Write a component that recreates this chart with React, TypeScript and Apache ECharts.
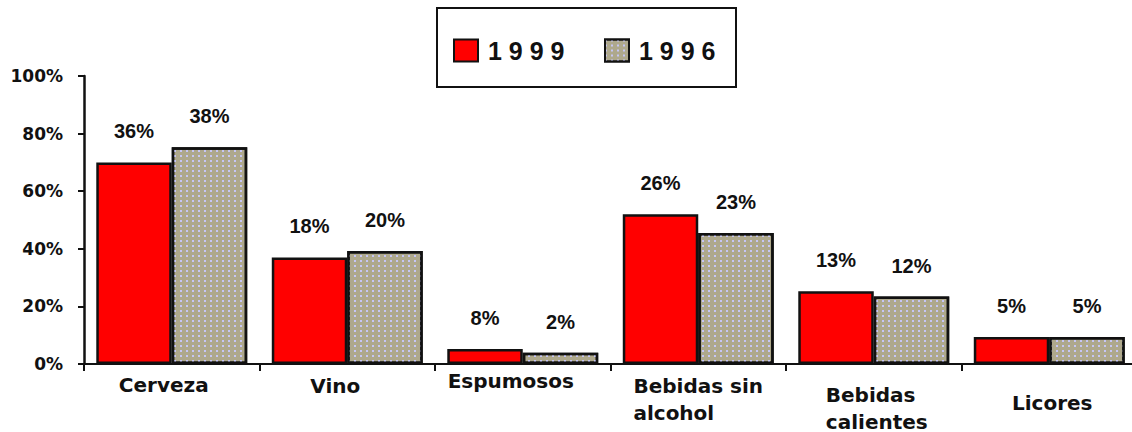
import React, { useEffect, useRef } from "react";
import * as echarts from "echarts";

const categories = ["Cerveza", "Vino", "Espumosos", "Bebidas sin\nalcohol", "Bebidas\ncalientes", "Licores"];
const seriesNames = ["1999", "1996"];
const bars1999 = [70, 37, 5.2, 52, 25.3, 9.4];
const bars1996 = [75.3, 39.2, 3.9, 45.5, 23.4, 9.4];
const labels1999 = ["36%", "18%", "8%", "26%", "13%", "5%"];
const labels1996 = ["38%", "20%", "2%", "23%", "12%", "5%"];
const yTicks = [0, 20, 40, 60, 80, 100];

// per-category label placement tweaks [top, right, bottom, left]
const catLabelPadding = [
  [4, 16, 0, 0],
  [5, 24, 0, 0],
  [0, 24, 0, 0],
  [5, 0, 0, 0],
  [14, 0, 0, 6],
  [22, 0, 0, 6],
];

export default function App() {
  const ref = useRef<HTMLDivElement>(null);
  useEffect(() => {
    document.body.style.margin = "0";
    document.body.style.overflow = "hidden";
    const chart = echarts.init(ref.current!, null, { renderer: "svg" });
    const labelFont = {
      fontFamily: "Liberation Sans",
      fontWeight: "bold" as const,
      fontSize: 20,
      color: "#111",
    };
    const legendText = {
      fontFamily: "Liberation Sans",
      fontWeight: "bold",
      fontSize: 25,
      color: "#111",
      padding: [0, 0, 0, 5],
    };
    chart.setOption({
      animation: false,
      backgroundColor: "#fff",
      graphic: [
        {
          type: "rect",
          shape: { x: 437, y: 8, width: 299, height: 79 },
          style: { fill: "#fff", stroke: "#111", lineWidth: 2 },
          z: 0,
        },
      ],
      legend: [
        {
          data: [seriesNames[0]],
          left: 453,
          top: 38,
          padding: 0,
          itemWidth: 24,
          itemHeight: 22,
          icon: "rect",
          formatter: (n: string) => n.split("").join(" "),
          textStyle: legendText,
          z: 5,
        },
        {
          data: [seriesNames[1]],
          left: 604,
          top: 38,
          padding: 0,
          itemWidth: 24,
          itemHeight: 22,
          icon: "rect",
          formatter: (n: string) => n.split("").join(" "),
          textStyle: legendText,
          z: 5,
        },
      ],
      grid: { left: 84, right: 0, top: 76, bottom: 68, containLabel: false },
      xAxis: {
        type: "category",
        data: categories.map((c, i) => ({ value: c, textStyle: { padding: catLabelPadding[i] } })),
        axisLine: { lineStyle: { color: "#111", width: 2 } },
        axisTick: { show: true, length: 7, lineStyle: { color: "#111", width: 2 } },
        axisLabel: {
          interval: 0,
          margin: 3,
          formatter: (v: string) => v.split("\n").map((s) => `{l|${s}}`).join("\n"),
          rich: {
            l: {
              fontFamily: "DejaVu Sans",
              fontWeight: "bold",
              fontSize: 20,
              lineHeight: 27,
              align: "left",
              color: "#111",
            },
          },
        },
      },
      yAxis: {
        type: "value",
        min: yTicks[0],
        max: yTicks[yTicks.length - 1],
        interval: 20,
        splitLine: { show: false },
        axisLine: { show: true, lineStyle: { color: "#111", width: 2.5 } },
        axisTick: { show: true, length: 6, lineStyle: { color: "#111", width: 2 } },
        axisLabel: {
          margin: 21,
          formatter: "{value}%",
          fontFamily: "DejaVu Sans",
          fontWeight: "bold",
          fontSize: 17,
          color: "#111",
        },
      },
      series: [
        {
          name: seriesNames[0],
          type: "bar",
          data: bars1999,
          barGap: "0%",
          barCategoryGap: "14%",
          itemStyle: { color: "#ff0000", borderColor: "#111", borderWidth: 2.5 },
          label: {
            show: true,
            position: "top",
            distance: 21,
            formatter: (p: any) => labels1999[p.dataIndex],
            ...labelFont,
          },
        },
        {
          name: seriesNames[1],
          type: "bar",
          data: bars1996,
          barGap: "0%",
          barCategoryGap: "14%",
          itemStyle: {
            color: "#aea88c",
            borderColor: "#111",
            borderWidth: 2.5,
            decal: {
              symbol: "rect",
              symbolSize: 1,
              color: "#c6c6f6",
              dashArrayX: [2, 4],
              dashArrayY: [2, 3],
            },
          },
          label: {
            show: true,
            position: "top",
            distance: 21,
            formatter: (p: any) => labels1996[p.dataIndex],
            ...labelFont,
          },
        },
      ],
    });
    return () => chart.dispose();
  }, []);
  return <div ref={ref} style={{ width: 1137, height: 432 }} />;
}
